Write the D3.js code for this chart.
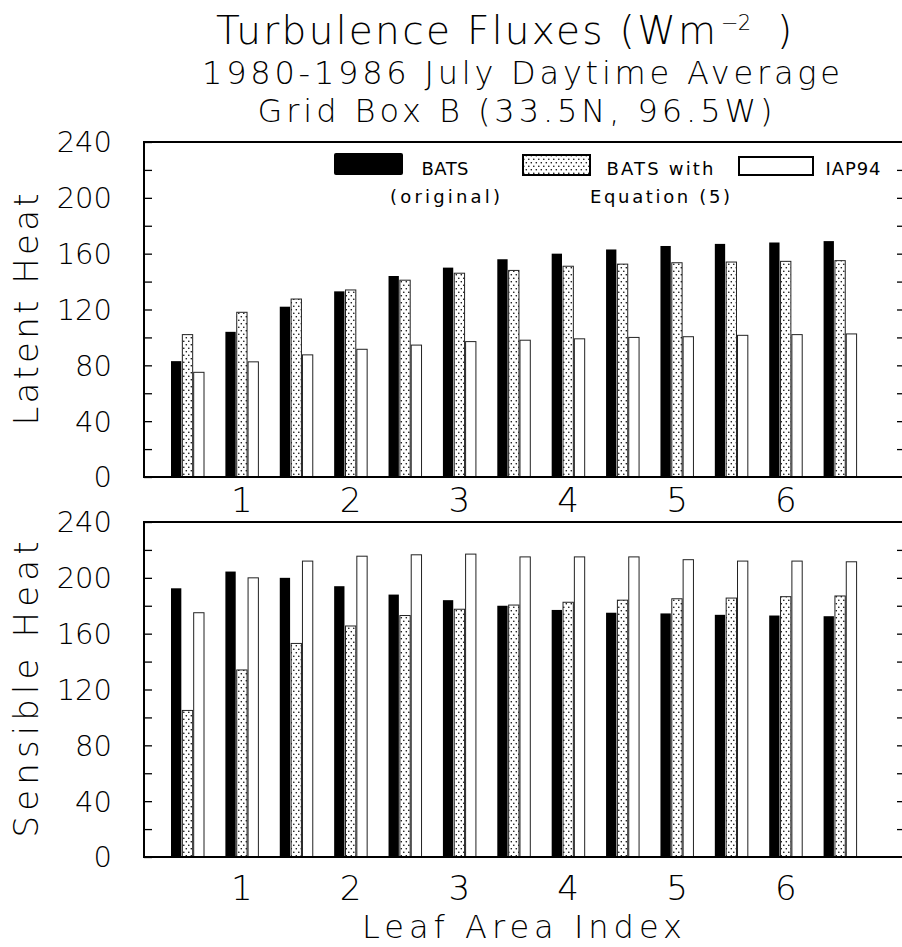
<!DOCTYPE html>
<html>
<head>
<meta charset="utf-8">
<script src="https://cdn.jsdelivr.net/npm/d3@7/dist/d3.min.js"></script>
<style>
  html, body { margin: 0; padding: 0; background: #fff; }
  svg { display: block; }
  text { font-family: "DejaVu Sans", "Liberation Sans", sans-serif; font-weight: 200; fill: #000; }
  text.small { font-weight: 400; }
</style>
</head>
<body>
<svg id="chart" width="902" height="947"></svg>
<script>
// ---------- data ----------
const lai = [0.5, 1.0, 1.5, 2.0, 2.5, 3.0, 3.5, 4.0, 4.5, 5.0, 5.5, 6.0, 6.5];
const seriesNames = ["BATS (original)", "BATS with Equation (5)", "IAP94"];

const latentBATS = [83, 104, 122, 133, 144, 150, 156, 160, 163, 165.5, 167, 168, 169];
const latentEq5  = [102, 118, 127.5, 134, 141, 146, 148, 151, 152.5, 153.5, 154, 154.5, 155];
const latentIAP  = [75, 82.5, 87.5, 91.5, 94.5, 97, 98, 99, 100, 100.5, 101.5, 102, 102.5];

const sensBATS = [192.5, 204.5, 200, 194, 188, 184, 180, 177, 175, 174.5, 173.5, 173, 172.5];
const sensEq5  = [105, 134, 153, 165.5, 173, 177.5, 180.5, 182.5, 184, 185, 185.5, 186.5, 187];
const sensIAP  = [175, 200, 212, 215.5, 216.5, 217, 215, 215, 215, 213, 212, 212, 211.5];

const yTicks = [0, 40, 80, 120, 160, 200, 240];
const yMinorTicks = [0, 20, 40, 60, 80, 100, 120, 140, 160, 180, 200, 220, 240];
const xTicks = [1, 2, 3, 4, 5, 6];

const titleParts = ["Turbulence Fluxes (Wm", "\u22122", ")"];
const titleLines = ["1980-1986 July Daytime Average", "Grid Box B (33.5N, 96.5W)"];
const panelLabels = ["Latent Heat", "Sensible Heat"];
const xLabel = "Leaf Area Index";

// ---------- layout ----------
const svg = d3.select("#chart");
const left = 144, right = 901;
const x = d3.scaleLinear().domain([0.1, 7.06]).range([left, right]);
const sub = d3.scaleBand().domain(seriesNames).range([-16.5, 16.5]).paddingInner(0.09);

const defs = svg.append("defs");
const pat = defs.append("pattern").attr("id", "dots")
  .attr("patternUnits", "userSpaceOnUse").attr("width", 5).attr("height", 7);
pat.append("rect").attr("width", 5).attr("height", 7).attr("fill", "#fff");
pat.append("circle").attr("cx", 1.3).attr("cy", 1.8).attr("r", 0.8).attr("fill", "#000");
pat.append("circle").attr("cx", 3.8).attr("cy", 5.3).attr("r", 0.8).attr("fill", "#000");

const fills = ["#000", "url(#dots)", "#fff"];
const strokes = ["#000", "#222", "#222"];

// ---------- titles ----------
svg.append("text").attr("x", 216).attr("y", 44)
  .style("font-size", "39px").attr("textLength", 500).attr("lengthAdjust", "spacing")
  .text(titleParts[0]);
svg.append("text").attr("x", 721).attr("y", 30)
  .style("font-size", "21px").attr("textLength", 30).attr("lengthAdjust", "spacing")
  .text(titleParts[1]);
svg.append("text").attr("x", 777).attr("y", 44)
  .style("font-size", "39px").text(titleParts[2]);

svg.append("text").attr("x", 521).attr("y", 84).attr("text-anchor", "middle")
  .style("font-size", "32px").attr("textLength", 638).attr("lengthAdjust", "spacing")
  .text(titleLines[0]);
svg.append("text").attr("x", 515).attr("y", 122).attr("text-anchor", "middle")
  .style("font-size", "32px").attr("textLength", 515).attr("lengthAdjust", "spacing")
  .text(titleLines[1]);

// ---------- panels ----------
function panel(top, bottom, data, label, labelLen, xLabelY) {
  const y = d3.scaleLinear().domain([0, 240]).range([bottom, top]);
  const g = svg.append("g");

  // bars
  data.forEach((vals, si) => {
    g.selectAll(null).data(vals).enter().append("rect")
      .attr("x", (d, i) => x(lai[i]) + sub(seriesNames[si]))
      .attr("y", d => y(d))
      .attr("width", sub.bandwidth())
      .attr("height", d => y(0) - y(d))
      .attr("fill", fills[si])
      .attr("stroke", strokes[si])
      .attr("stroke-width", si === 0 ? 0 : 1);
  });

  // frame lines
  g.append("line").attr("x1", left).attr("x2", 902).attr("y1", top).attr("y2", top)
    .attr("stroke", "#000").attr("stroke-width", 2.2);
  g.append("line").attr("x1", left).attr("x2", 902).attr("y1", bottom).attr("y2", bottom)
    .attr("stroke", "#000").attr("stroke-width", 2.2);
  g.append("line").attr("x1", left).attr("x2", left).attr("y1", top - 1).attr("y2", bottom + 1)
    .attr("stroke", "#000").attr("stroke-width", 2);

  // left axis with inward ticks + labels
  const yAxisL = d3.axisRight(y).tickValues(yMinorTicks).tickSize(8).tickFormat("");
  g.append("g").attr("transform", `translate(${left},0)`).call(yAxisL)
    .call(s => s.select(".domain").remove())
    .call(s => s.selectAll("line").attr("stroke", "#000").attr("stroke-width", 1.3));
  g.selectAll(null).data(yTicks).enter().append("text")
    .attr("x", 112).attr("y", d => y(d)).attr("dy", "0.36em")
    .attr("text-anchor", "end").style("font-size", "29px").text(d => d);

  // right axis ticks (frame edge falls just outside the picture)
  const yAxisR = d3.axisLeft(y).tickValues(yMinorTicks.filter(d => d > 0 && d < 240)).tickSize(6).tickFormat("");
  g.append("g").attr("transform", `translate(${right + 2},0)`).call(yAxisR)
    .call(s => s.select(".domain").remove())
    .call(s => s.selectAll("line").attr("stroke", "#000").attr("stroke-width", 1.3));

  // x labels
  g.selectAll(null).data(xTicks).enter().append("text")
    .attr("x", d => x(d)).attr("y", xLabelY).attr("text-anchor", "middle")
    .style("font-size", "34px").text(d => d);

  // y label
  g.append("text")
    .attr("transform", `translate(38,${(top + bottom) / 2}) rotate(-90)`)
    .attr("text-anchor", "middle").style("font-size", "34px")
    .attr("textLength", labelLen).attr("lengthAdjust", "spacing")
    .text(label);
}

panel(142, 477, [latentBATS, latentEq5, latentIAP], panelLabels[0], 232, 512);
panel(522, 857, [sensBATS, sensEq5, sensIAP], panelLabels[1], 296, 900);

svg.append("text").attr("x", 522).attr("y", 938).attr("text-anchor", "middle")
  .style("font-size", "32px").attr("textLength", 320).attr("lengthAdjust", "spacing")
  .text(xLabel);

// ---------- legend ----------
const legendBoxes = [
  { x: 334, y: 153, w: 69, h: 22 },
  { x: 523, y: 155, w: 67, h: 20 },
  { x: 739, y: 157, w: 74, h: 18 }
];
const legendText = [
  { lines: ["BATS", "(original)"], cx: 445, lens: [47, 110] },
  { lines: ["BATS with", "Equation (5)"], cx: 660, lens: [107, 140] },
  { lines: ["IAP94"], cx: 853, lens: [55] }
];
const lg = svg.append("g");
legendBoxes.forEach((b, i) => {
  lg.append("rect").attr("x", b.x).attr("y", b.y).attr("width", b.w).attr("height", b.h)
    .attr("rx", i === 0 ? 2 : 0)
    .attr("fill", fills[i]).attr("stroke", "#000").attr("stroke-width", i === 0 ? 0 : 2);
  const lt = legendText[i];
  lt.lines.forEach((s, j) => {
    lg.append("text").attr("class", "small").attr("x", lt.cx).attr("y", 175 + j * 28)
      .attr("text-anchor", "middle")
      .style("font-size", "18px").attr("textLength", lt.lens[j]).attr("lengthAdjust", "spacing")
      .text(s);
  });
});
</script>
</body>
</html>
